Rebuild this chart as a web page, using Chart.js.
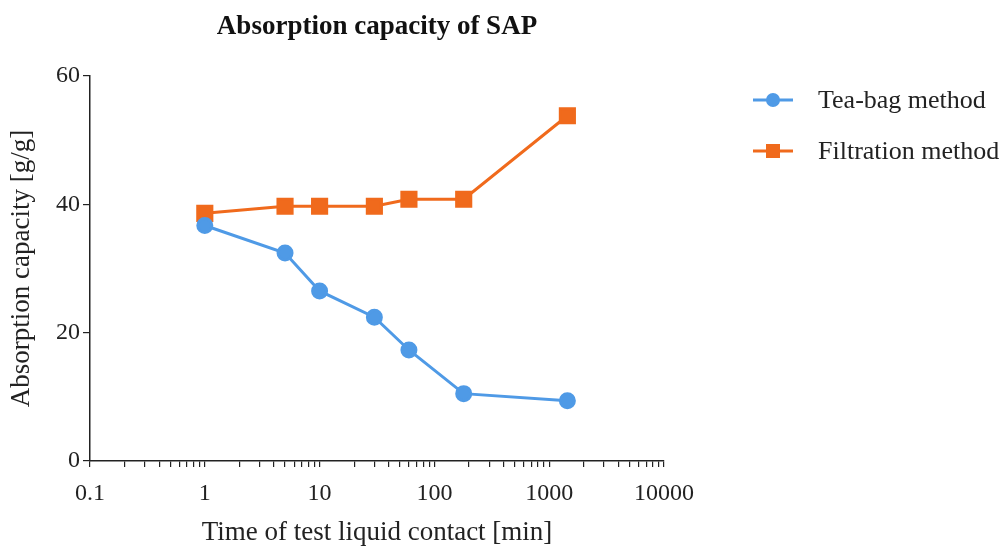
<!DOCTYPE html>
<html>
<head>
<meta charset="utf-8">
<script src="https://cdn.jsdelivr.net/npm/chart.js@4"></script>
<style>
  html, body { margin: 0; padding: 0; background: #fff; }
  #wrap { width: 1003px; height: 546px; position: relative; }
</style>
</head>
<body>
<div id="wrap"><canvas id="chart" width="1003" height="546"></canvas></div>
<script>
const times = [1, 5, 10, 30, 60, 180, 1440];
const teaBag = [36.7, 32.4, 26.5, 22.4, 17.3, 10.5, 9.4];
const filtration = [38.6, 39.7, 39.7, 39.7, 40.8, 40.8, 53.8];
const xTickLabels = [0.1, 1, 10, 100, 1000, 10000];
const yTicks = [0, 20, 40, 60];

const blue = "#4f9ae6";
const orange = "#f06a1c";
const serif = "'Liberation Serif', 'Times New Roman', serif";

const legendItems = [
    { label: "Tea-bag method", color: blue, style: "circle" },
    { label: "Filtration method", color: orange, style: "rect" }
];

// title and legend (line + marker) drawn by hand
const extras = {
    id: "extras",
    afterDraw(c) {
        const ctx = c.ctx;
        ctx.save();
        ctx.fillStyle = "#111";
        ctx.font = "bold 27px " + serif;
        ctx.textAlign = "center";
        ctx.textBaseline = "alphabetic";
        ctx.fillText("Absorption capacity of SAP", (c.chartArea.left + c.chartArea.right) / 2, 34);

        legendItems.forEach((item, i) => {
            const y = 100 + i * 51;
            ctx.strokeStyle = item.color;
            ctx.lineWidth = 3;
            ctx.beginPath();
            ctx.moveTo(753, y);
            ctx.lineTo(793, y);
            ctx.stroke();
            ctx.fillStyle = item.color;
            if (item.style === "circle") {
                ctx.beginPath();
                ctx.arc(773, y, 7, 0, Math.PI * 2);
                ctx.fill();
            } else {
                ctx.fillRect(766, y - 7, 14, 14);
            }
            ctx.fillStyle = "#222";
            ctx.font = "26px " + serif;
            ctx.textAlign = "left";
            ctx.textBaseline = "middle";
            ctx.fillText(item.label, 818, y + 1, 182);
        });
        ctx.restore();
    }
};

new Chart(document.getElementById("chart"), {
    type: "line",
    data: {
        datasets: [
            {
                label: "Tea-bag method",
                data: times.map((t, i) => ({ x: t, y: teaBag[i] })),
                borderColor: blue,
                backgroundColor: blue,
                borderWidth: 3,
                pointStyle: "circle",
                pointRadius: 7,
                pointHoverRadius: 7,
                tension: 0
            },
            {
                label: "Filtration method",
                data: times.map((t, i) => ({ x: t, y: filtration[i] })),
                borderColor: orange,
                backgroundColor: orange,
                borderWidth: 3,
                pointStyle: "rect",
                pointRadius: 10,
                pointHoverRadius: 10,
                tension: 0
            }
        ]
    },
    options: {
        responsive: false,
        animation: false,
        layout: { padding: { top: 76, right: 339, left: 0, bottom: 0 } },
        plugins: {
            legend: { display: false },
            title: { display: false },
            tooltip: { enabled: false }
        },
        scales: {
            x: {
                type: "logarithmic",
                min: 0.1,
                max: 10000,
                afterBuildTicks: scale => {
                    const ticks = [];
                    for (let e = -1; e < 4; e++) {
                        for (let m = 1; m < 10; m++) ticks.push({ value: m * Math.pow(10, e) });
                    }
                    ticks.push({ value: 10000 });
                    scale.ticks = ticks;
                },
                afterFit: scale => { scale.height = 85; },
                border: { display: true, color: "#222", width: 1.5 },
                grid: {
                    drawOnChartArea: false,
                    drawTicks: true,
                    tickLength: 6,
                    color: "#222",
                    lineWidth: 1.2
                },
                ticks: {
                    autoSkip: false,
                    maxRotation: 0,
                    color: "#222",
                    font: { family: serif, size: 24 },
                    padding: 12,
                    callback: v => xTickLabels.includes(v) ? String(v) : ""
                },
                title: {
                    display: true,
                    text: "Time of test liquid contact [min]",
                    color: "#222",
                    font: { family: serif, size: 27 },
                    padding: { top: -3, bottom: -3 }
                }
            },
            y: {
                min: 0,
                max: 60,
                afterBuildTicks: scale => { scale.ticks = yTicks.map(v => ({ value: v })); },
                afterFit: scale => { scale.width = 90; },
                border: { display: true, color: "#222", width: 1.5 },
                grid: {
                    drawOnChartArea: false,
                    drawTicks: true,
                    tickLength: 7,
                    color: "#222",
                    lineWidth: 1.2
                },
                ticks: {
                    color: "#222",
                    font: { family: serif, size: 24 },
                    padding: 3
                },
                title: {
                    display: true,
                    text: "Absorption capacity [g/g]",
                    color: "#222",
                    font: { family: serif, size: 27 },
                    padding: { top: 6, bottom: 0 }
                }
            }
        }
    },
    plugins: [extras]
});
</script>
</body>
</html>
